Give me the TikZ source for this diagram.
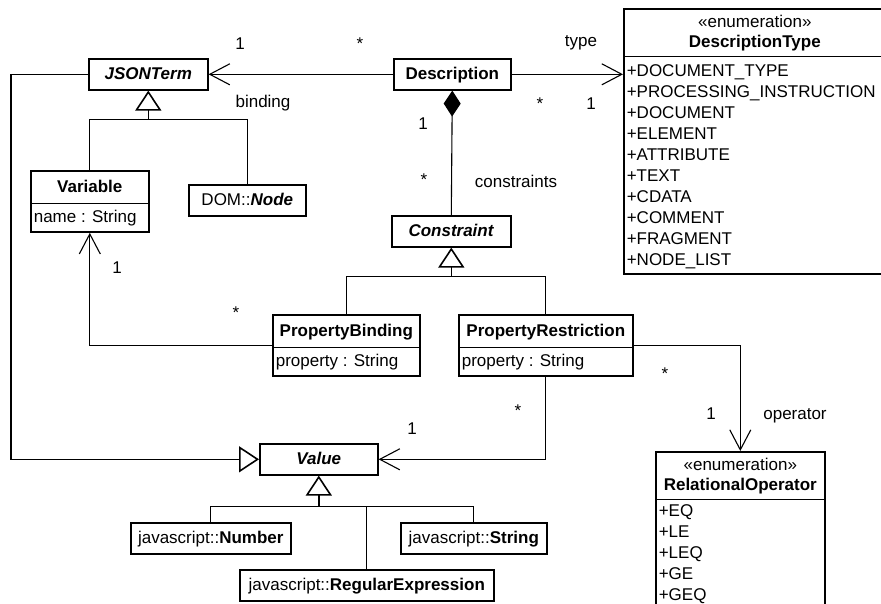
\documentclass[tikz,border=0pt]{standalone}
\usepackage{fontspec}
\setmainfont{Liberation Sans}
\usetikzlibrary{arrows.meta,shapes.multipart}

\newcommand\hs{\rule[-10pt]{0pt}{31pt}}	% strut of a class name
\newcommand\as{\rule[-9pt]{0pt}{27pt}}	% strut of an attribute
\newcommand\abst[1]{\hs\textbf{\textit{#1}}}
\newcommand\enumhead[1]{{\renewcommand\arraystretch{0}%
  \begin{tabular}{@{}c@{}}\rule{0pt}{18pt}«enumeration»\\
  \rule[-8pt]{0pt}{28pt}\textbf{#1}\end{tabular}}}

\begin{document}
\begin{tikzpicture}[x=1pt,y=-1pt,font=\fontsize{17}{21}\selectfont]
  \tikzstyle{cls}=[draw,line width=1.6pt,rectangle,inner xsep=3pt,inner ysep=0pt,anchor=north west]
  \tikzstyle{cls2}=[cls,rectangle split,rectangle split parts=2,rectangle split part align={center,left}]
  \tikzstyle{line}=[line width=1.1pt]
  \tikzstyle{assoc}=[line,-{Straight Barb[length=20pt,width=21pt,line width=1.1pt]}]
  \tikzstyle{gen}=[line,-{Triangle[open,length=20pt,width=26pt,line width=1.6pt]}]
  \tikzstyle{comp}=[line,{Diamond[length=26pt,width=17pt]}-]
  \tikzstyle{lbl}=[anchor=base,inner sep=0pt]
  \def\bus{29}	% v-dist of a generalization bus below its parent
  \useasboundingbox (0,0) rectangle (881,603);
  \clip (0,0) rectangle (881,603);
  % classes
  \node[cls,minimum width=119pt] (json) at (88,58) {\abst{JSONTerm}};
  \node[cls,minimum width=117pt] (desc) at (393,58) {\hs\textbf{Description}};
  \node[cls2,minimum width=118pt] (var) at (30,170) {\hs\textbf{Variable}\nodepart{two}\as name : String};
  \node[cls,minimum width=117pt] (dom) at (188,184) {\hs DOM::\textbf{\textit{Node}}};
  \node[cls,minimum width=119pt] (con) at (391,215) {\abst{Constraint}};
  \node[cls2,minimum width=147pt] (pb) at (272,314) {\hs\textbf{PropertyBinding}\nodepart{two}\as property : String};
  \node[cls2,minimum width=174pt] (pr) at (458,314) {\hs\textbf{PropertyRestriction}\nodepart{two}\as property : String};
  \node[cls,minimum width=118pt] (val) at (259,443) {\abst{Value}};
  \node[cls,minimum width=160pt] (num) at (130,522) {\hs javascript::\textbf{Number}};
  \node[cls,minimum width=146pt] (str) at (400,522) {\hs javascript::\textbf{String}};
  \node[cls,minimum width=254pt] (regx) at (239,569) {\hs javascript::\textbf{RegularExpression}};
  % enumerations
  \node[cls2,minimum width=262pt] (dt) at (623,8) {\enumhead{DescriptionType}\nodepart{two}%
    \begin{tabular}{@{}l@{}}\rule{0pt}{19pt}+DOCUMENT\_TYPE\\ +PROCESSING\_INSTRUCTION\\ +DOCUMENT\\
    +ELEMENT\\ +ATTRIBUTE\\ +TEXT\\ +CDATA\\ +COMMENT\\ +FRAGMENT\\
    +NODE\_LIST\rule[-8pt]{0pt}{8pt}\end{tabular}};
  \node[cls2,minimum width=169pt] (ro) at (655,451) {\enumhead{RelationalOperator}\nodepart{two}%
    \begin{tabular}{@{}l@{}}\rule{0pt}{16pt}+EQ\\ +LE\\ +LEQ\\ +GE\\
    +GEQ\rule[-14pt]{0pt}{14pt}\end{tabular}};
  % generalizations
  \path (json.south) + (0,\bus) coordinate (jbus);
  \path (con.south) + (0,\bus) coordinate (cbus);
  \path (val.south) + (0,31) coordinate (vbus);
  \draw[line] (var.north) |- (jbus) -| (dom.north);
  \draw[gen,line width=1.6pt] (jbus) -- (json.south);
  \draw[line] (pb.north) |- (cbus) -| (pr.north);
  \draw[gen,line width=1.6pt] (cbus) -- (con.south);
  \draw[line] (num.north) |- (vbus) -| (str.north);
  \draw[line] (regx.north) -- (regx.north |- vbus);
  \draw[gen,line width=1.6pt] (vbus) -- (val.south);
  \coordinate (lft) at (11,0);
  \draw[gen] (json.west) -| (lft |- val.west) -- (val.west);
  % associations
  \draw[assoc] (desc.west) -- (json.east);
  \draw[assoc] (desc.east) -- (desc.east -| dt.west);
  \draw[comp] (desc.south) -- (con.north);
  \draw[assoc] (pb.west) -| (var.south);
  \draw[assoc] (pr.south) |- (val.east);
  \draw[assoc] (pr.east) -| (ro.north);
  % role names and multiplicities
  \node[lbl] (m-jt) at (240,49) {1};
  \node[lbl] (m-dj) at (360,49) {*};
  \node[lbl] (r-bind) at (263,107) {binding};
  \node[lbl] (r-type) at (581,46) {type};
  \node[lbl] (m-dt1) at (540,109) {*};
  \node[lbl] (m-dt2) at (591,109) {1};
  \node[lbl] (m-dc1) at (423,129) {1};
  \node[lbl] (m-dc2) at (424,185) {*};
  \node[lbl] (r-con) at (516,187) {constraints};
  \node[lbl] (m-vb1) at (117,273) {1};
  \node[lbl] (m-vb2) at (236,318) {*};
  \node[lbl] (m-pv1) at (412,434) {1};
  \node[lbl] (m-pv2) at (518,416) {*};
  \node[lbl] (m-po1) at (665,379) {*};
  \node[lbl] (m-po2) at (711,419) {1};
  \node[lbl] (r-op) at (795,419) {operator};
\end{tikzpicture}
\end{document}
